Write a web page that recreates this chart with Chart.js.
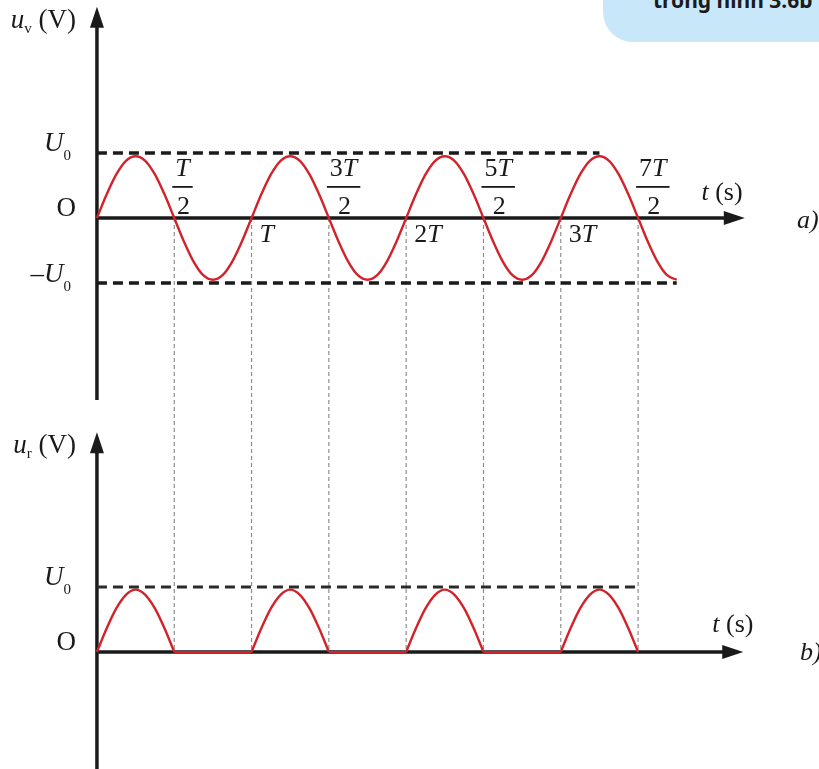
<!DOCTYPE html>
<html>
<head>
<meta charset="utf-8">
<script src="https://cdn.jsdelivr.net/npm/chart.js@4.4.1/dist/chart.umd.min.js"></script>
<style>
  body { margin: 0; background: #fff; }
  #wrap { position: relative; width: 819px; height: 769px; overflow: hidden; }
  .note { position: absolute; left: 603px; top: -30px; width: 260px; height: 72px;
          background: #c8e8fa; border-radius: 0 0 0 30px; overflow: hidden; }
  .note span { position: absolute; left: 50px; top: 16px; line-height: 20px;
               font: bold 21px "Noto Sans", sans-serif; color: #1b1b1b; white-space: nowrap; }
</style>
</head>
<body>
<div id="wrap">
  <canvas id="GraficoTensao"></canvas>
  <div class="note"><span>trong hình 3.6b</span></div>
</div>
<script>
// time in units of T, voltages in units of U0
var tValues = [0, 0.0625, 0.125, 0.1875, 0.25, 0.3125, 0.375, 0.4375,
               0.5, 0.5625, 0.625, 0.6875, 0.75, 0.8125, 0.875, 0.9375,
               1, 1.0625, 1.125, 1.1875, 1.25, 1.3125, 1.375, 1.4375,
               1.5, 1.5625, 1.625, 1.6875, 1.75, 1.8125, 1.875, 1.9375,
               2, 2.0625, 2.125, 2.1875, 2.25, 2.3125, 2.375, 2.4375,
               2.5, 2.5625, 2.625, 2.6875, 2.75, 2.8125, 2.875, 2.9375,
               3, 3.0625, 3.125, 3.1875, 3.25, 3.3125, 3.375, 3.4375,
               3.5, 3.5625, 3.625, 3.6875, 3.75];

// input voltage u_v (panel a)
var uvValues = [0, 0.36, 0.67, 0.88, 0.95, 0.88, 0.67, 0.36, 0, -0.36, -0.67, -0.88, -0.95, -0.88, -0.67, -0.36,
                0, 0.36, 0.67, 0.88, 0.95, 0.88, 0.67, 0.36, 0, -0.36, -0.67, -0.88, -0.95, -0.88, -0.67, -0.36,
                0, 0.36, 0.67, 0.88, 0.95, 0.88, 0.67, 0.36, 0, -0.36, -0.67, -0.88, -0.95, -0.88, -0.67, -0.36,
                0, 0.36, 0.67, 0.88, 0.95, 0.88, 0.67, 0.36, 0, -0.36, -0.67, -0.88, -0.95];

// rectified voltage u_r (panel b)
var urValues = [0, 0.36, 0.67, 0.88, 0.96, 0.88, 0.67, 0.36, 0, 0, 0, 0, 0, 0, 0, 0,
                0, 0.36, 0.67, 0.88, 0.96, 0.88, 0.67, 0.36, 0, 0, 0, 0, 0, 0, 0, 0,
                0, 0.36, 0.67, 0.88, 0.96, 0.88, 0.67, 0.36, 0, 0, 0, 0, 0, 0, 0, 0,
                0, 0.36, 0.67, 0.88, 0.96, 0.88, 0.67, 0.36, 0];

// dashed U0 reference lines: [from t, to t, level]
var refTopUpper = [0, 3.25, 1];
var refTopLower = [0, 3.75, -1];
var refBottom = [0, 3.5, 1];

// dotted guides and tick labels
var guideTicks = [0.5, 1, 1.5, 2, 2.5, 3, 3.5];
var halfTicks = [0.5, 1.5, 2.5, 3.5];
var halfNums = ['', '3', '5', '7'];
var fullTicks = [1, 2, 3];
var fullNums = ['', '2', '3'];

var RED = '#d2232b';
var INK = '#1a1a1a';
var SERIF = '"Liberation Serif", "DejaVu Serif", serif';

function pontos(ys) {
    return ys.map(function (v, i) { return { x: tValues[i], y: v }; });
}

// humps (keep the zero ends of each half wave) and the flat zero parts
var urHumps = urValues.map(function (v, i) {
    var antes = i > 0 ? urValues[i - 1] : 0;
    var depois = i < urValues.length - 1 ? urValues[i + 1] : 0;
    return (v > 0 || antes > 0 || depois > 0) ? v : null;
});
var urFlat = urValues.map(function (v) { return v === 0 ? 0 : null; });

function refLine(r, eixo, largura, cor) {
    return {
        data: [{ x: r[0], y: r[2] }, { x: r[1], y: r[2] }],
        yAxisID: eixo, borderColor: cor, borderWidth: largura, borderDash: [10, 6],
        pointRadius: 0, tension: 0
    };
}

function texto(ctx, partes, x, y, align) {
    var total = 0;
    partes.forEach(function (p) {
        ctx.font = (p.it ? 'italic ' : '') + (p.size || 26) + 'px ' + SERIF;
        p.w = ctx.measureText(p.t).width;
        total += p.w;
    });
    var cx = align === 'right' ? x - total : align === 'center' ? x - total / 2 : x;
    partes.forEach(function (p) {
        ctx.font = (p.it ? 'italic ' : '') + (p.size || 26) + 'px ' + SERIF;
        ctx.fillText(p.t, cx, y + (p.dy || 0));
        cx += p.w;
    });
    return total;
}

function seta(ctx, x, y, dir) {
    ctx.beginPath();
    if (dir === 'up') {
        ctx.moveTo(x, y); ctx.lineTo(x - 7, y + 21); ctx.lineTo(x + 7, y + 21);
    } else {
        ctx.moveTo(x, y); ctx.lineTo(x - 21, y - 7); ctx.lineTo(x - 21, y + 7);
    }
    ctx.closePath();
    ctx.fill();
}

var desenho = {
    id: 'desenho',
    beforeDatasetsDraw: function (chart) {
        var ctx = chart.ctx, sx = chart.scales.x, ya = chart.scales.y, yb = chart.scales.y2;
        ctx.save();
        ctx.strokeStyle = '#8e8e8e';
        ctx.lineWidth = 1.2;
        ctx.setLineDash([4, 3]);
        guideTicks.forEach(function (t) {
            var px = sx.getPixelForValue(t);
            ctx.beginPath();
            ctx.moveTo(px, ya.getPixelForValue(0));
            ctx.lineTo(px, yb.getPixelForValue(0));
            ctx.stroke();
        });
        ctx.setLineDash([]);

        // axes
        ctx.strokeStyle = INK;
        ctx.fillStyle = INK;
        ctx.lineWidth = 3.5;
        var x0 = sx.getPixelForValue(0);
        var paineis = [
            { s: ya, yBottom: -2.8, yTop: 3.25, xEnd: 4.19 },
            { s: yb, yBottom: -1.9, yTop: 3.38, xEnd: 4.18 }
        ];
        paineis.forEach(function (p) {
            var topo = p.s.getPixelForValue(p.yTop);
            var zero = p.s.getPixelForValue(0);
            var fimX = sx.getPixelForValue(p.xEnd);
            ctx.beginPath();
            ctx.moveTo(x0, p.s.getPixelForValue(p.yBottom));
            ctx.lineTo(x0, topo + 15);
            ctx.moveTo(x0 - 1.5, zero);
            ctx.lineTo(fimX - 15, zero);
            ctx.stroke();
            seta(ctx, x0, topo, 'up');
            seta(ctx, fimX, zero, 'right');
        });
        ctx.restore();
    },
    afterDatasetsDraw: function (chart) {
        var ctx = chart.ctx, sx = chart.scales.x, ya = chart.scales.y, yb = chart.scales.y2;
        var x0 = sx.getPixelForValue(0);
        ctx.save();
        ctx.fillStyle = INK;
        ctx.textBaseline = 'alphabetic';

        // axis names
        texto(ctx, [{ t: 'u', it: true, size: 27 }, { t: 'v', size: 15, dy: 5 }, { t: ' (V)', size: 27 }],
            x0 - 21, ya.getPixelForValue(3.25) + 21, 'right');
        texto(ctx, [{ t: 'u', it: true, size: 27 }, { t: 'r', size: 15, dy: 5 }, { t: ' (V)', size: 27 }],
            x0 - 21, yb.getPixelForValue(3.38) + 21, 'right');

        // U0, O, -U0
        [ya, yb].forEach(function (s) {
            texto(ctx, [{ t: 'U', it: true, size: 27 }, { t: '0', size: 15, dy: 9 }], x0 - 26, s.getPixelForValue(1) - 2, 'right');
            texto(ctx, [{ t: 'O', size: 27 }], x0 - 21, s.getPixelForValue(0) - 2, 'right');
        });
        texto(ctx, [{ t: '\u2013', size: 27 }, { t: 'U', it: true, size: 27 }, { t: '0', size: 15, dy: 9 }],
            x0 - 26, ya.getPixelForValue(-1) - 1, 'right');

        // t (s)
        texto(ctx, [{ t: 't', it: true }, { t: ' (s)' }], sx.getPixelForValue(3.91), ya.getPixelForValue(0) - 18, 'left');
        texto(ctx, [{ t: 't', it: true }, { t: ' (s)' }], sx.getPixelForValue(3.98), yb.getPixelForValue(0) - 20, 'left');

        // a) b)
        texto(ctx, [{ t: 'a', it: true }, { t: ')', it: true }], 797, ya.getPixelForValue(0) + 10, 'left');
        texto(ctx, [{ t: 'b', it: true }, { t: ')', it: true }], 800, yb.getPixelForValue(0) + 8, 'left');

        // fractions above the axis
        var zeroA = ya.getPixelForValue(0);
        halfTicks.forEach(function (t, i) {
            var px = sx.getPixelForValue(t);
            ctx.font = '26px ' + SERIF;
            var wn = ctx.measureText(halfNums[i]).width;
            ctx.font = 'italic 26px ' + SERIF;
            wn += ctx.measureText('T').width;
            var barL = px - 2, barW = wn + 6;
            texto(ctx, [{ t: halfNums[i] }, { t: 'T', it: true }], barL + barW / 2, zeroA - 42, 'center');
            ctx.fillRect(barL, zeroA - 32, barW, 1.8);
            texto(ctx, [{ t: '2' }], barL + barW / 2 + 1, zeroA - 4, 'center');
        });
        // T, 2T, 3T below the axis
        fullTicks.forEach(function (t, i) {
            var px = sx.getPixelForValue(t);
            texto(ctx, [{ t: fullNums[i] }, { t: 'T', it: true }], px + 8, zeroA + 24, 'left');
        });
        ctx.restore();
    }
};

var ctx = document.getElementById('GraficoTensao').getContext('2d');
var grafico = new Chart(ctx, {
    type: 'line',
    data: {
        datasets: [
            refLine(refTopUpper, 'y', 3.5, INK),
            refLine(refTopLower, 'y', 3.5, INK),
            refLine(refBottom, 'y2', 3, '#2a2a2a'),
            {
                label: 'u_v',
                data: pontos(uvValues),
                yAxisID: 'y',
                borderColor: RED, borderWidth: 2.4,
                pointRadius: 0, cubicInterpolationMode: 'monotone'
            },
            {
                label: 'u_r',
                data: pontos(urHumps),
                yAxisID: 'y2',
                borderColor: RED, borderWidth: 2.4,
                pointRadius: 0, cubicInterpolationMode: 'monotone'
            },
            {
                label: 'u_r zero',
                data: pontos(urFlat),
                yAxisID: 'y2',
                borderColor: RED, borderWidth: 2,
                pointRadius: 0, tension: 0
            }
        ]
    },
    options: {
        responsive: true,
        maintainAspectRatio: false,
        animation: false,
        layout: { padding: 0 },
        plugins: { legend: { display: false }, tooltip: { enabled: false } },
        scales: {
            // origin at 97px, about 154.6px per T
            x: { type: 'linear', min: -0.627, max: 4.67, display: false },
            // panel a: zero at 218px, 65px per U0
            y: { type: 'linear', min: -8.477, max: 3.354, display: false },
            // panel b: zero at 652px
            y2: { type: 'linear', min: -1.8, max: 10.03, display: false }
        }
    },
    plugins: [desenho]
});
</script>
</body>
</html>
